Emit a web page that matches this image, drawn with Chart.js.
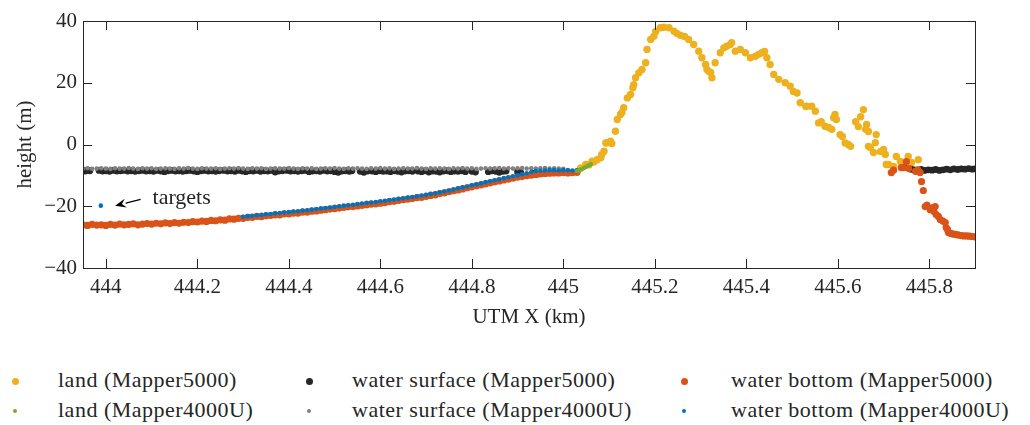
<!DOCTYPE html>
<html><head><meta charset="utf-8">
<script src="https://cdn.jsdelivr.net/npm/chart.js@4"></script>
<style>
html,body{margin:0;padding:0;background:#fff;}
#wrap{position:relative;width:1030px;height:425px;overflow:hidden;font-family:"Liberation Serif",serif;color:#262626;}
#plot{position:absolute;left:0;top:0;width:1030px;height:345px;}
.lg-m{position:absolute;border-radius:50%;}
.lg-t{position:absolute;font-size:22px;line-height:26px;white-space:nowrap;letter-spacing:0.5px;}
</style></head>
<body>
<div id="wrap"><div id="plot"><canvas id="cv" width="1030" height="345"></canvas></div><div id="legend"></div></div>
<script>
// ---- data (UTM X km, height m) ----
const seriesNames = ['land (Mapper5000)','water surface (Mapper5000)','water bottom (Mapper5000)','land (Mapper4000U)','water surface (Mapper4000U)','water bottom (Mapper4000U)'];
const xTicks = [444,444.2,444.4,444.6,444.8,445,445.2,445.4,445.6,445.8];
const xTickLabels = ['444','444.2','444.4','444.6','444.8','445','445.2','445.4','445.6','445.8'];
const yTicks = [-40,-20,0,20,40];
const yTickLabels = ['\u221240','\u221220','0','20','40'];

const landM5000 = [[445.038,-7.6],[445.049,-6.5],[445.056,-6.6],[445.063,-5.4],[445.067,-5.7],[445.074,-4.9],[445.082,-4.3],[445.084,-3.2],[445.089,-2.2],[445.093,0.5],[445.095,0.6],[445.103,1.1],[445.106,0.3],[445.114,4.3],[445.118,8.1],[445.125,9.7],[445.128,10.4],[445.132,11.9],[445.140,15.1],[445.147,16.2],[445.152,18.4],[445.154,19.4],[445.158,21.6],[445.165,23.2],[445.172,24.3],[445.180,26.5],[445.183,30.8],[445.191,34.0],[445.198,35.1],[445.202,36.6],[445.212,37.8],[445.220,38.0],[445.231,37.8],[445.242,36.7],[445.248,36.0],[445.256,35.4],[445.265,35.0],[445.274,34.0],[445.285,32.4],[445.296,30.2],[445.303,28.1],[445.311,25.9],[445.314,24.3],[445.318,23.7],[445.322,23.3],[445.325,21.6],[445.332,26.5],[445.343,29.7],[445.351,31.3],[445.357,31.8],[445.365,32.4],[445.368,33.0],[445.376,30.2],[445.387,30.8],[445.398,29.7],[445.409,28.1],[445.420,28.6],[445.427,29.2],[445.434,29.7],[445.440,30.1],[445.445,28.1],[445.452,25.9],[445.460,22.7],[445.471,21.1],[445.485,20.0],[445.496,18.9],[445.503,17.2],[445.511,16.7],[445.518,13.5],[445.530,12.3],[445.532,12.4],[445.543,12.4],[445.551,10.8],[445.558,7.0],[445.564,7.4],[445.572,5.9],[445.580,5.5],[445.587,4.9],[445.591,8.7],[445.594,9.7],[445.597,8.1],[445.605,3.2],[445.610,2.6],[445.616,0.5],[445.623,0.0],[445.628,-0.6],[445.639,7.4],[445.645,5.8],[445.650,9.0],[445.656,11.3],[445.661,4.9],[445.663,6.5],[445.667,4.2],[445.667,-0.6],[445.671,-1.0],[445.678,-2.6],[445.682,0.6],[445.684,3.2],[445.693,-2.3],[445.700,-1.6],[445.704,-3.2],[445.706,-6.5],[445.711,-6.5],[445.722,-7.1],[445.728,-3.9],[445.737,-5.5],[445.748,-7.1],[445.754,-3.9],[445.761,-5.8],[445.765,-8.1],[445.776,-4.9]];

const surfM5000 = [[443.950,-8.4],[443.955,-8.6],[443.960,-8.3],[443.965,-8.5],[443.985,-8.4],[443.993,-8.6],[444.000,-8.5],[444.008,-8.7],[444.016,-8.4],[444.024,-8.6],[444.032,-8.5],[444.040,-8.4],[444.048,-8.6],[444.056,-8.5],[444.064,-8.7],[444.072,-8.5],[444.080,-8.4],[444.088,-8.6],[444.096,-8.5],[444.104,-8.7],[444.112,-8.4],[444.120,-8.6],[444.128,-8.8],[444.136,-8.5],[444.144,-8.4],[444.152,-8.6],[444.160,-8.5],[444.168,-8.7],[444.176,-8.5],[444.184,-8.4],[444.192,-8.6],[444.200,-8.8],[444.208,-8.5],[444.216,-8.4],[444.224,-8.6],[444.232,-8.5],[444.240,-8.7],[444.248,-8.5],[444.258,-8.4],[444.266,-8.6],[444.274,-8.5],[444.282,-8.7],[444.290,-8.4],[444.298,-8.6],[444.306,-8.8],[444.314,-8.5],[444.322,-8.6],[444.330,-8.4],[444.338,-8.7],[444.346,-8.5],[444.354,-8.6],[444.362,-8.4],[444.370,-8.9],[444.378,-8.6],[444.386,-8.5],[444.396,-8.4],[444.404,-8.6],[444.412,-8.5],[444.420,-8.7],[444.428,-8.5],[444.436,-8.4],[444.444,-8.8],[444.452,-8.6],[444.460,-8.5],[444.468,-8.7],[444.476,-8.4],[444.484,-8.6],[444.492,-8.5],[444.500,-8.8],[444.508,-9.0],[444.516,-8.6],[444.524,-8.5],[444.532,-8.7],[444.538,-8.5],[444.556,-8.7],[444.564,-9.0],[444.572,-8.6],[444.582,-8.6],[444.590,-8.8],[444.598,-8.5],[444.606,-8.7],[444.614,-8.6],[444.622,-8.8],[444.630,-8.5],[444.638,-8.7],[444.646,-8.9],[444.654,-8.6],[444.662,-8.5],[444.670,-8.7],[444.682,-8.6],[444.690,-8.8],[444.698,-8.5],[444.706,-8.9],[444.714,-8.6],[444.722,-8.7],[444.730,-8.9],[444.738,-8.6],[444.746,-8.5],[444.754,-8.8],[444.762,-8.6],[444.770,-8.7],[444.778,-8.5],[444.786,-8.8],[444.800,-8.7],[444.808,-8.9],[444.836,-8.8],[444.844,-8.5],[444.852,-8.7],[444.860,-9.0],[444.868,-8.7],[444.875,-8.6],[444.900,-8.9],[444.907,-9.1],[444.934,-9.3],[444.942,-9.6],[445.745,-7.5],[445.760,-8.0],[445.768,-8.3],[445.775,-8.3],[445.782,-8.1],[445.790,-8.4],[445.798,-8.2],[445.806,-8.3],[445.814,-8.1],[445.822,-8.4],[445.830,-8.2],[445.838,-8.0],[445.846,-8.2],[445.854,-7.9],[445.862,-8.1],[445.870,-7.9],[445.878,-8.0],[445.886,-7.8],[445.894,-8.0],[445.900,-7.9]];

const bottomM5000 = [[443.95,-26.0],[443.96,-26.2],[443.97,-25.9],[443.98,-26.1],[443.99,-26.0],[444.00,-26.2],[444.01,-25.9],[444.02,-26.1],[444.03,-25.8],[444.04,-26.0],[444.05,-25.9],[444.06,-25.7],[444.07,-26.0],[444.08,-25.8],[444.09,-25.6],[444.10,-25.8],[444.11,-25.5],[444.12,-25.7],[444.13,-25.4],[444.14,-25.6],[444.15,-25.3],[444.16,-25.5],[444.17,-25.2],[444.18,-25.3],[444.19,-25.0],[444.20,-25.1],[444.21,-24.8],[444.22,-24.9],[444.23,-24.6],[444.24,-24.7],[444.25,-24.4],[444.26,-24.5],[444.27,-24.1],[444.28,-24.2],[444.29,-23.9],[444.30,-23.9],[444.31,-23.6],[444.32,-23.6],[444.33,-23.3],[444.34,-23.4],[444.35,-23.1],[444.36,-23.0],[444.37,-22.8],[444.38,-22.8],[444.39,-22.5],[444.40,-22.5],[444.41,-22.2],[444.42,-22.2],[444.43,-21.9],[444.44,-21.9],[444.45,-21.6],[444.46,-21.5],[444.47,-21.3],[444.48,-21.1],[444.49,-20.9],[444.50,-20.8],[444.51,-20.6],[444.52,-20.4],[444.53,-20.2],[444.54,-20.1],[444.55,-19.9],[444.56,-19.7],[444.57,-19.5],[444.58,-19.3],[444.59,-19.2],[444.60,-19.0],[444.61,-18.8],[444.62,-18.5],[444.63,-18.4],[444.64,-18.1],[444.65,-17.9],[444.66,-17.7],[444.67,-17.5],[444.68,-17.2],[444.69,-17.1],[444.70,-16.8],[444.71,-16.5],[444.72,-16.3],[444.73,-15.9],[444.74,-15.7],[444.75,-15.3],[444.76,-15.0],[444.77,-14.7],[444.78,-14.4],[444.79,-14.0],[444.80,-13.7],[444.81,-13.4],[444.82,-13.1],[444.83,-12.8],[444.84,-12.4],[444.85,-12.1],[444.86,-11.8],[444.87,-11.5],[444.88,-11.2],[444.89,-10.9],[444.90,-10.6],[444.91,-10.4],[444.92,-10.1],[444.93,-9.9],[444.94,-9.7],[444.95,-9.5],[444.96,-9.4],[444.97,-9.3],[444.98,-9.2],[444.99,-9.2],[445.00,-9.1],[445.01,-9.2],[445.02,-9.1],[445.03,-9.0],
[445.717,-9.1],[445.722,-8.3],[445.739,-7.5],[445.743,-7.5],[445.750,-5.5],[445.755,-7.8],[445.770,-8.7],[445.775,-8.2],[445.780,-9.1],[445.783,-12.0],[445.787,-14.9],[445.791,-20.1],[445.795,-19.6],[445.802,-21.1],[445.806,-20.5],[445.810,-21.6],[445.813,-20.1],[445.815,-22.7],[445.820,-23.3],[445.824,-24.3],[445.830,-24.8],[445.835,-25.3],[445.837,-26.9],[445.840,-27.6],[445.842,-28.5],[445.847,-28.8],[445.852,-29.0],[445.857,-29.1],[445.863,-29.3],[445.870,-29.5],[445.876,-29.6],[445.882,-29.6],[445.888,-29.7],[445.894,-29.8],[445.900,-29.9]];

const landM4000U = [[445.030,-8.6],[445.035,-8.3],[445.040,-8.0],[445.045,-7.6],[445.050,-7.2],[445.055,-6.8],[445.060,-6.4]];

const surfM4000U = [[443.95,-7.8],[443.96,-7.7],[443.97,-7.9],[443.98,-7.8],[443.99,-7.7],[444.00,-7.8],[444.01,-7.9],[444.02,-7.7],[444.03,-7.8],[444.04,-7.8],[444.05,-7.6],[444.06,-7.8],[444.07,-7.9],[444.08,-7.7],[444.09,-7.8],[444.10,-7.7],[444.11,-7.9],[444.12,-7.8],[444.13,-7.7],[444.14,-7.8],[444.15,-7.9],[444.16,-7.7],[444.17,-7.8],[444.18,-7.6],[444.19,-7.8],[444.20,-7.9],[444.21,-7.7],[444.22,-7.8],[444.23,-7.8],[444.24,-7.7],[444.25,-7.9],[444.26,-7.8],[444.27,-7.7],[444.28,-7.8],[444.29,-7.6],[444.30,-7.8],[444.31,-7.9],[444.32,-7.7],[444.33,-7.8],[444.34,-7.7],[444.35,-7.9],[444.36,-7.8],[444.37,-7.7],[444.38,-7.8],[444.39,-7.8],[444.40,-7.6],[444.41,-7.8],[444.42,-7.9],[444.43,-7.7],[444.44,-7.8],[444.45,-7.7],[444.46,-7.9],[444.47,-7.8],[444.48,-7.7],[444.49,-7.8],[444.50,-7.6],[444.51,-7.8],[444.52,-7.9],[444.53,-7.7],[444.54,-7.8],[444.55,-7.7],[444.56,-7.8],[444.57,-7.9],[444.58,-7.7],[444.59,-7.8],[444.60,-7.6],[444.61,-7.8],[444.62,-7.7],[444.63,-7.9],[444.64,-7.8],[444.65,-7.7],[444.66,-7.8],[444.67,-7.8],[444.68,-7.6],[444.69,-7.8],[444.70,-7.9],[444.71,-7.7],[444.72,-7.8],[444.73,-7.7],[444.74,-7.8],[444.75,-7.9],[444.76,-7.7],[444.77,-7.8],[444.78,-7.6],[444.79,-7.8],[444.80,-7.7],[444.81,-7.9],[444.82,-7.8],[444.83,-7.7],[444.84,-7.8],[444.85,-7.7],[444.86,-7.6],[444.87,-7.8],[444.88,-7.7],[444.89,-7.8],[444.90,-7.7],[444.91,-7.6],[444.92,-7.8],[444.93,-7.7],[444.94,-7.8],[444.95,-7.7],[444.96,-7.6],[444.97,-7.8],[444.98,-7.7],[444.99,-7.8],[445.00,-7.9]];

const bottomM4000U = [[443.989,-19.8],[444.30,-23.4],[444.31,-23.2],[444.32,-23.1],[444.33,-22.9],[444.34,-22.8],[444.35,-22.6],[444.36,-22.5],[444.37,-22.3],[444.38,-22.2],[444.39,-22.0],[444.40,-21.9],[444.41,-21.7],[444.42,-21.6],[444.43,-21.4],[444.44,-21.3],[444.45,-21.1],[444.46,-20.9],[444.47,-20.7],[444.48,-20.6],[444.49,-20.4],[444.50,-20.2],[444.51,-20.0],[444.52,-19.8],[444.53,-19.7],[444.54,-19.5],[444.55,-19.3],[444.56,-19.1],[444.57,-18.9],[444.58,-18.8],[444.59,-18.6],[444.60,-18.4],[444.61,-18.2],[444.62,-18.0],[444.63,-17.8],[444.64,-17.6],[444.65,-17.4],[444.66,-17.2],[444.67,-17.0],[444.68,-16.8],[444.69,-16.5],[444.70,-16.3],[444.71,-16.0],[444.72,-15.8],[444.73,-15.5],[444.74,-15.2],[444.75,-14.9],[444.76,-14.6],[444.77,-14.2],[444.78,-13.9],[444.79,-13.6],[444.80,-13.2],[444.81,-12.9],[444.82,-12.6],[444.83,-12.2],[444.84,-11.9],[444.85,-11.6],[444.86,-11.3],[444.87,-10.9],[444.88,-10.6],[444.89,-10.3],[444.90,-10.0],[444.91,-9.6],[444.92,-9.3],[444.93,-8.9],[444.94,-8.6],[444.95,-8.5],[444.96,-8.4],[444.97,-8.3],[444.98,-8.3],[444.99,-8.4],[445.00,-8.3],[445.01,-8.3],[445.02,-8.4],[445.03,-8.3]];

// annotation "targets"
const annotText = 'targets';
const annotTextPos = [444.102, -17.4];
const annotArrowFrom = [444.076, -17.8];
const annotArrowTo = [444.020, -19.8];

// ---- styles ----
const colors = ['#EDB120','#262626','#D95319','#77AC30','#808080','#0072BD'];
const radii = [3.7,3.4,3.6,2.3,2.3,2.3];
const legendRadii = [3.5,3.5,3.5,2.1,2.1,2.1];
const drawOrder = [6,5,3,1,4,2];
const seriesData = [landM5000,surfM5000,bottomM5000,landM4000U,surfM4000U,bottomM4000U];
const legendOrder = [0,1,2,3,4,5];
const legendCols = [{m:15,t:58},{m:309,t:352},{m:684,t:731}];
const legendRows = [381,411];
const FONT = '"Liberation Serif", "Times New Roman", serif';
const INK = '#262626';

const datasets = seriesData.map((d,i)=>({
  label: seriesNames[i],
  data: d.map(p=>({x:p[0],y:p[1]})),
  backgroundColor: colors[i],
  borderColor: colors[i],
  pointRadius: radii[i],
  pointHoverRadius: radii[i],
  pointBorderWidth: 0,
  order: drawOrder[i],
  clip: 0
}));

const boxPlugin = {
  id:'boxTicks',
  afterDatasetsDraw(chart){
    const {ctx, chartArea:a, scales:{x,y}} = chart;
    ctx.save();
    ctx.strokeStyle = INK; ctx.lineWidth = 1;
    ctx.beginPath();
    xTicks.forEach(v=>{
      const p = Math.round(x.getPixelForValue(v))+0.5;
      ctx.moveTo(p, a.bottom); ctx.lineTo(p, a.bottom-9);
      ctx.moveTo(p, a.top); ctx.lineTo(p, a.top+9);
    });
    yTicks.forEach(v=>{
      const p = Math.round(y.getPixelForValue(v))+0.5;
      ctx.moveTo(a.left, p); ctx.lineTo(a.left+9, p);
      ctx.moveTo(a.right, p); ctx.lineTo(a.right-9, p);
    });
    ctx.stroke();
    ctx.strokeRect(Math.round(a.left)+0.5, Math.round(a.top)+0.5, Math.round(a.right-a.left), Math.round(a.bottom-a.top));
    // annotation
    const fx = x.getPixelForValue(annotArrowFrom[0]), fy = y.getPixelForValue(annotArrowFrom[1]);
    const tx = x.getPixelForValue(annotArrowTo[0]), ty = y.getPixelForValue(annotArrowTo[1]);
    const ang = Math.atan2(ty-fy, tx-fx);
    const hl = 11, hw = 4.5;
    const bx = tx - hl*Math.cos(ang), by = ty - hl*Math.sin(ang);
    ctx.strokeStyle = '#000'; ctx.fillStyle = '#000'; ctx.lineWidth = 1.2;
    ctx.beginPath(); ctx.moveTo(fx,fy); ctx.lineTo(bx,by); ctx.stroke();
    ctx.beginPath();
    ctx.moveTo(tx,ty);
    ctx.lineTo(bx + hw*Math.sin(ang), by - hw*Math.cos(ang));
    ctx.lineTo(bx + 0.35*hl*Math.cos(ang), by + 0.35*hl*Math.sin(ang));
    ctx.lineTo(bx - hw*Math.sin(ang), by + hw*Math.cos(ang));
    ctx.closePath(); ctx.fill();
    ctx.font = '22px ' + FONT; ctx.fillStyle = INK;
    ctx.textAlign = 'left'; ctx.textBaseline = 'middle';
    ctx.fillText(annotText, x.getPixelForValue(annotTextPos[0]), y.getPixelForValue(annotTextPos[1]));
    ctx.restore();
  }
};

const chart = new Chart(document.getElementById('cv'), {
  type: 'scatter',
  data: { datasets },
  options: {
    responsive: false,
    devicePixelRatio: 1,
    animation: false,
    events: [],
    layout: { padding: { top: 21, right: 55, bottom: 0, left: 0 } },
    plugins: { legend: { display: false }, tooltip: { enabled: false } },
    scales: {
      x: {
        type: 'linear', min: 443.95, max: 445.9,
        grid: { display: false, drawTicks: false },
        border: { display: false },
        afterBuildTicks: s => { s.ticks = xTicks.map(v=>({value:v})); },
        afterFit: s => { s.height = 77; },
        ticks: { autoSkip:false, maxRotation:0, padding: 7, color: INK, font: { family: FONT, size: 21 },
                 callback: (v,i) => xTickLabels[i] },
        title: { display: true, text: 'UTM X (km)', color: INK, font: { family: FONT, size: 21 }, padding: { top: 0, bottom: 15 } }
      },
      y: {
        type: 'linear', min: -40, max: 40,
        grid: { display: false, drawTicks: false },
        border: { display: false },
        afterBuildTicks: s => { s.ticks = yTicks.map(v=>({value:v})); },
        afterFit: s => { s.width = 83; },
        ticks: { padding: 6, color: INK, font: { family: FONT, size: 21 },
                 callback: (v,i) => yTickLabels[i] },
        title: { display: true, text: 'height (m)', color: INK, font: { family: FONT, size: 21 }, padding: { top: 13, bottom: 0 } }
      }
    }
  },
  plugins: [boxPlugin]
});

// HTML legend built from the chart's datasets
const lg = document.getElementById('legend');
legendOrder.forEach((di, k) => {
  const ds = chart.data.datasets[di];
  const col = legendCols[k % 3], rowY = legendRows[Math.floor(k / 3)];
  const m = document.createElement('div');
  m.className = 'lg-m';
  const d = legendRadii[di] * 2;
  m.style.cssText = `left:${col.m - d/2}px;top:${rowY - d/2}px;width:${d}px;height:${d}px;background:${ds.backgroundColor};`;
  lg.appendChild(m);
  const t = document.createElement('div');
  t.className = 'lg-t';
  t.style.left = col.t + 'px';
  t.style.top = (rowY - 14) + 'px';
  t.textContent = ds.label;
  lg.appendChild(t);
});
</script>
</body></html>
